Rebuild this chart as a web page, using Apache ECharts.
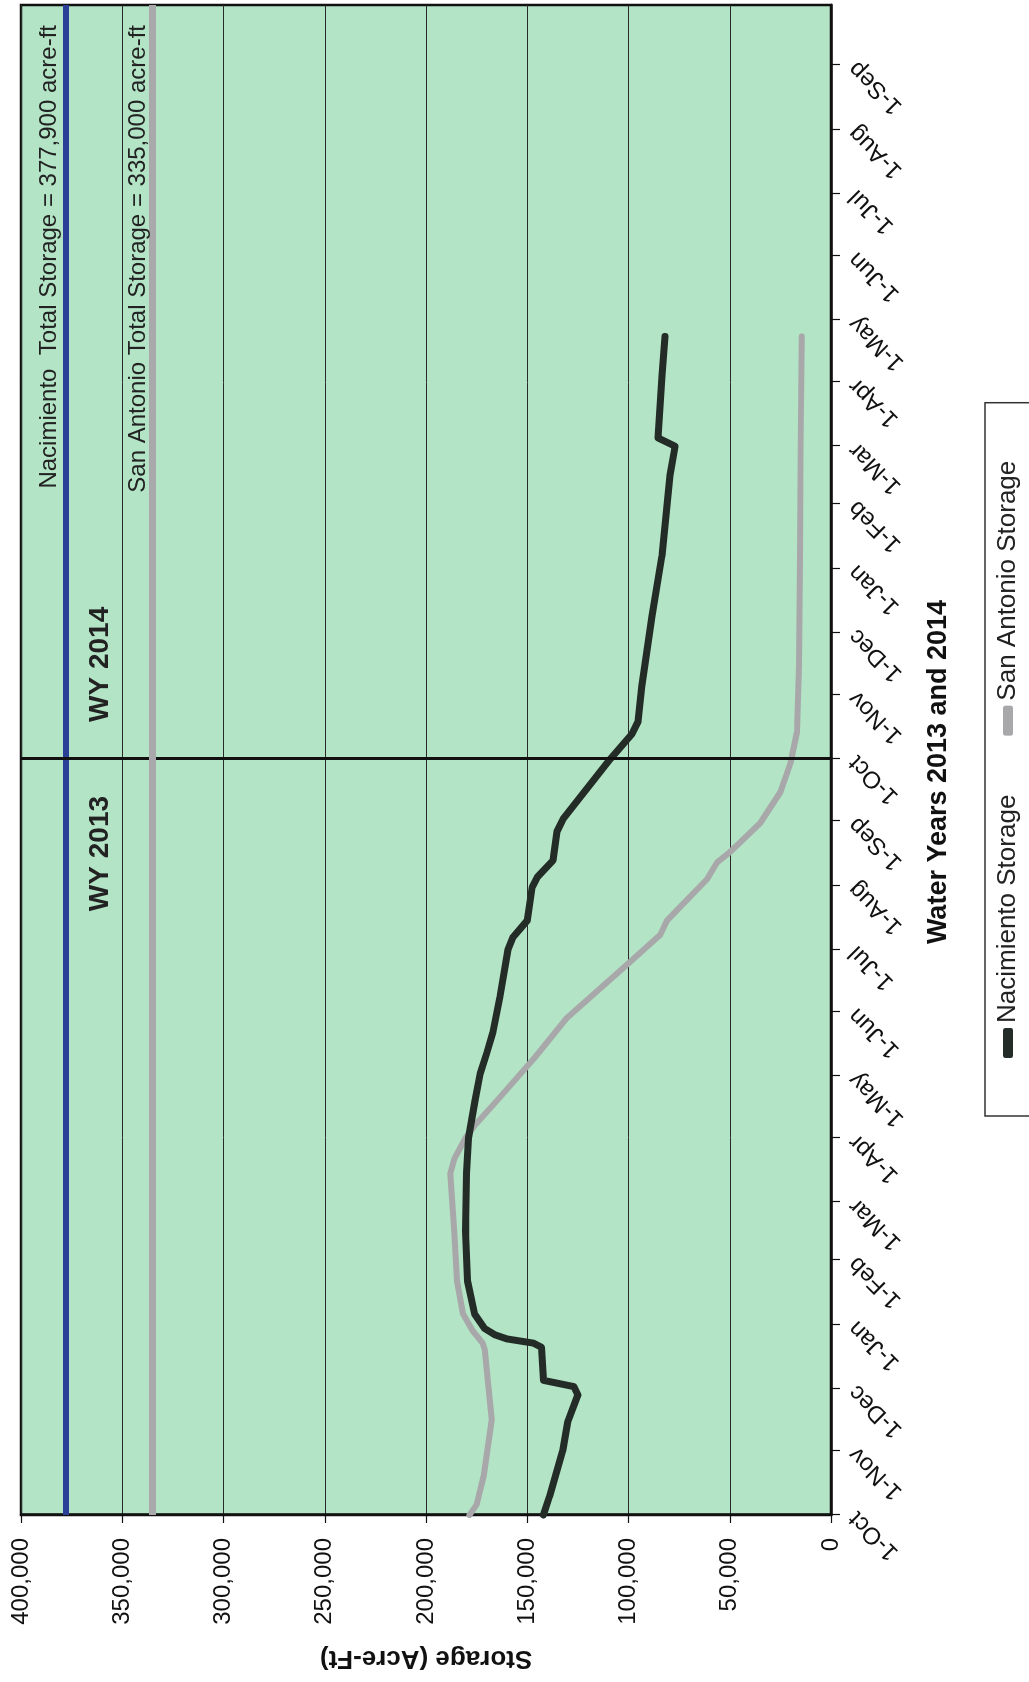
<!DOCTYPE html>
<html>
<head>
<meta charset="utf-8">
<script src="https://cdn.jsdelivr.net/npm/echarts@6/dist/echarts.min.js"></script>
<style>
html,body{margin:0;padding:0;background:#fff;overflow:hidden;width:1029px;height:1682px;}
#chart{position:absolute;left:0;top:0;width:1682px;height:1029px;transform-origin:0 0;transform:translate(0px,1682px) rotate(-90deg);}
</style>
</head>
<body>
<div id="chart"></div>
<script>
// ---- Data ----
const monthNames = ['Jan','Feb','Mar','Apr','May','Jun','Jul','Aug','Sep','Oct','Nov','Dec'];
const axisStart = '2012-10-01';
const axisEnd = '2014-09-30';
const divideDate = '2013-10-01';

const storageMin = 0;
const storageMax = 400000;
const storageStep = 50000;

const seriesNames = ['Nacimiento Storage', 'San Antonio Storage'];

const naciDates = [
  '2012-10-01','2012-10-10','2012-11-01','2012-11-15','2012-11-28','2012-12-02','2012-12-05',
  '2012-12-21','2012-12-23','2012-12-25','2012-12-27','2012-12-30','2013-01-06','2013-01-22',
  '2013-02-15','2013-03-15','2013-04-01','2013-04-19','2013-05-02','2013-05-12','2013-05-22',
  '2013-06-08','2013-07-01','2013-07-07','2013-07-15','2013-07-31','2013-08-05','2013-08-13',
  '2013-08-27','2013-09-02','2013-10-01','2013-10-13','2013-10-19','2013-11-05','2013-12-09',
  '2014-01-07','2014-02-15','2014-03-01','2014-03-05','2014-04-04','2014-04-23'
];
const naciValues = [
  142000,139000,132500,130000,125000,127000,142000,
  143000,147000,160000,166000,171000,176000,179500,
  180500,180000,179000,175800,173300,170000,167000,
  163500,159500,157000,150000,147600,145000,137300,
  135300,132300,109000,98300,95300,93500,88400,
  83500,79500,77000,85400,83500,82000
];

const saDates = [
  '2012-10-01','2012-10-06','2012-10-20','2012-11-16','2012-12-04','2012-12-20','2012-12-23',
  '2012-12-29','2013-01-06','2013-01-22','2013-02-15','2013-03-01','2013-03-15','2013-03-22',
  '2013-04-01','2013-04-07','2013-04-19','2013-05-09','2013-05-29','2013-06-25','2013-07-08',
  '2013-07-15','2013-08-04','2013-08-12','2013-08-17','2013-08-31','2013-09-15','2013-09-29',
  '2013-10-14','2013-11-15','2014-01-05','2014-03-01','2014-04-23'
];
const saValues = [
  178500,175000,171500,167500,169400,171000,172000,
  177000,181700,184700,186000,187000,188000,186000,
  180500,176000,165000,147000,130400,99300,84400,
  81000,61200,56300,49900,35000,25000,20000,
  16800,15800,15300,15000,14500
];

const capacityValues = [377900, 335000];
const capacityLabels = [
  'Nacimiento  Total Storage = 377,900 acre-ft',
  'San Antonio Total Storage = 335,000 acre-ft'
];
const waterYears = ['WY 2013', 'WY 2014'];
const wyLabelLevel = 361000;

// ---- Chart ----
const FONT = "'Liberation Sans', Arial, sans-serif";
const naciColor = '#242c27';
const saColor = '#a8a8aa';

const chart = echarts.init(document.getElementById('chart'), null, {width: 1682, height: 1029, renderer: 'canvas'});

const option = {
  animation: false,
  backgroundColor: '#ffffff',
  textStyle: {fontFamily: FONT},
  grid: {
    left: 167, right: 5, top: 21, bottom: 198,
    containLabel: false, outerBoundsMode: 'none',
    show: true, backgroundColor: '#b3e4c5', borderColor: '#111', borderWidth: 2.5
  },
  legend: {
    data: seriesNames,
    left: 566, top: 985,
    icon: 'roundRect', itemWidth: 30, itemHeight: 10, itemGap: 59,
    padding: [10, 58, 10, 58],
    borderColor: '#333', borderWidth: 1.5, backgroundColor: '#fff',
    textStyle: {fontSize: 26, color: '#222', fontFamily: FONT}
  },
  xAxis: {
    type: 'time',
    min: axisStart, max: axisEnd,
    minInterval: 28 * 86400000, maxInterval: 31 * 86400000,
    name: 'Water Years 2013 and 2014',
    nameLocation: 'middle', nameGap: 94,
    nameTextStyle: {fontSize: 27, fontWeight: 'bold', color: '#111', fontFamily: FONT, padding: [0, 24, 0, 0]},
    axisLine: {show: true, lineStyle: {color: '#111', width: 2.5}},
    axisTick: {show: true, length: 9, lineStyle: {color: '#111', width: 1.2}},
    axisLabel: {
      rotate: 45, margin: 22, fontSize: 24, color: '#111', fontFamily: FONT, hideOverlap: false,
      formatter: function (v) { const d = new Date(v); return d.getDate() + '-' + monthNames[d.getMonth()]; }
    },
    splitLine: {show: false}
  },
  yAxis: {
    type: 'value',
    min: storageMin, max: storageMax, interval: storageStep,
    name: 'Storage (Acre-Ft)',
    nameLocation: 'middle', nameGap: 130,
    nameTextStyle: {fontSize: 26, fontWeight: 'bold', color: '#111', fontFamily: FONT},
    axisLine: {show: true, lineStyle: {color: '#111', width: 2.5}},
    axisTick: {show: true, length: 8, lineStyle: {color: '#111', width: 1.2}},
    axisLabel: {
      margin: 23, fontSize: 24, color: '#111', fontFamily: FONT,
      formatter: function (v) { return v.toLocaleString('en-US'); }
    },
    splitLine: {show: true, lineStyle: {color: '#2a2a2a', width: 1}}
  },
  series: [
    {
      name: seriesNames[0], type: 'line', z: 4,
      data: naciDates.map((d, i) => [d, naciValues[i]]),
      showSymbol: false, symbol: 'none',
      itemStyle: {color: naciColor},
      lineStyle: {color: naciColor, width: 7, cap: 'round', join: 'round'},
      markLine: {
        silent: true, symbol: ['none', 'none'], animation: false,
        data: [
          {
            yAxis: capacityValues[0],
            lineStyle: {color: '#2c3f96', width: 6, type: 'solid'},
            label: {show: true, position: 'insideEndTop', distance: [20, 4], formatter: capacityLabels[0],
                    fontSize: 24, color: '#222', fontFamily: FONT}
          },
          {
            xAxis: divideDate,
            lineStyle: {color: '#111', width: 3, type: 'solid'},
            label: {show: false}
          }
        ]
      },
      markPoint: {
        silent: true, symbol: 'circle', symbolSize: 0,
        label: {show: true, fontSize: 28, fontWeight: 'bold', color: '#222', fontFamily: FONT},
        data: [
          {coord: [divideDate, wyLabelLevel], label: {position: 'left', distance: 37, formatter: waterYears[0]}},
          {coord: [divideDate, wyLabelLevel], label: {position: 'right', distance: 37, formatter: waterYears[1]}}
        ]
      }
    },
    {
      name: seriesNames[1], type: 'line', z: 3,
      data: saDates.map((d, i) => [d, saValues[i]]),
      showSymbol: false, symbol: 'none',
      itemStyle: {color: saColor},
      lineStyle: {color: saColor, width: 6, cap: 'round', join: 'round'},
      markLine: {
        silent: true, symbol: ['none', 'none'], animation: false,
        data: [
          {
            yAxis: capacityValues[1],
            lineStyle: {color: '#a9a9ab', width: 7, type: 'solid'},
            label: {show: true, position: 'insideEndTop', distance: [20, 2], formatter: capacityLabels[1],
                    fontSize: 24, color: '#222', fontFamily: FONT}
          }
        ]
      }
    }
  ]
};
chart.setOption(option);
</script>
</body>
</html>
